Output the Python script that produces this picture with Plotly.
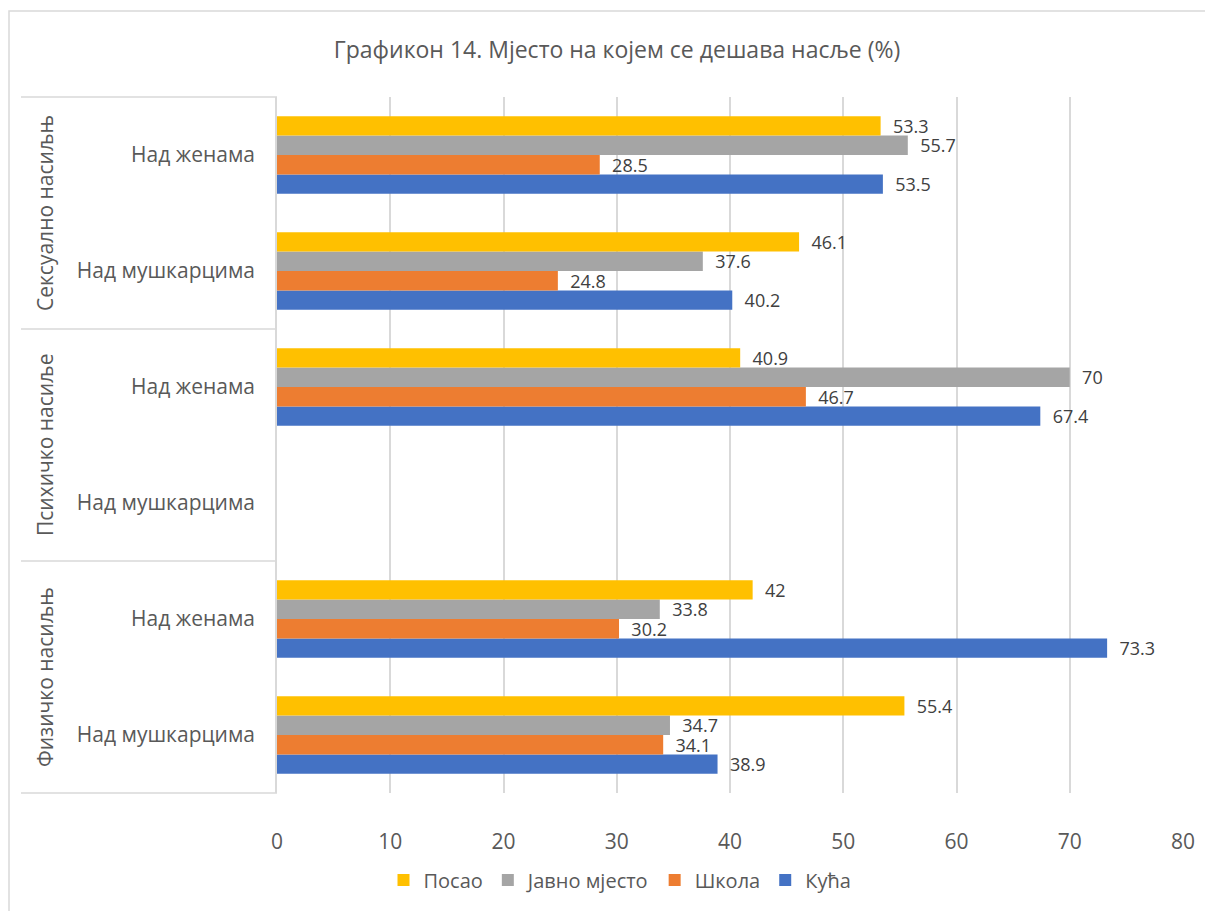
import plotly.graph_objects as go

# Categories (bottom to top)
groups = ["Физичко насиљњ", "Физичко насиљњ", "Психичко насиље", "Психичко насиље",
          "Сексуално насиљњ", "Сексуално насиљњ"]
subcats = ["Над мушкарцима", "Над женама", "Над мушкарцима", "Над женама",
           "Над мушкарцима", "Над женама"]
cat_keys = [f"{g}|{s}" for g, s in zip(groups, subcats)]
group_labels = ["Физичко насиљњ", "Психичко насиље", "Сексуално насиљњ"]

# Series values (same order as categories)
kuca = [38.9, 73.3, None, 67.4, 40.2, 53.5]
skola = [34.1, 30.2, None, 46.7, 24.8, 28.5]
javno = [34.7, 33.8, None, 70, 37.6, 55.7]
posao = [55.4, 42, None, 40.9, 46.1, 53.3]

series_names = ["Кућа", "Школа", "Јавно мјесто", "Посао"]
series_values = [kuca, skola, javno, posao]
series_colors = ["#4472C4", "#ED7D31", "#A5A5A5", "#FFC000"]

x_ticks = [0, 10, 20, 30, 40, 50, 60, 70, 80]
title_text = "Графикон 14. Мјесто на којем се дешава насље (%)"

FONT = "Open Sans"
W, H = 1213, 911
OFF = 8  # page body margin offset
ML = 277 - OFF
MR = W - (1183 - OFF)
MT = 97 - OFF
MB = H - (793 - OFF)
PW, PH = W - ML - MR, H - MT - MB

def px_x(px):  # px in reference-screenshot coordinates
    return (px - OFF - ML) / PW

def px_y(py):
    return (H - MB - (py - OFF)) / PH

fig = go.Figure()
for name, vals, col in zip(series_names, series_values, series_colors):
    fig.add_trace(go.Bar(
        y=cat_keys, x=vals, name=name, orientation="h",
        marker=dict(color=col, line=dict(width=0)),
        text=[("" if v is None else "\u00a0\u00a0" + f"{v:g}") for v in vals],
        textposition="outside", constraintext="none",
        textfont=dict(family=FONT, size=18, color="#404040"),
        cliponaxis=False,
    ))

shapes = []
# separators in category label area
for yp in [0, 1/3, 2/3, 1]:
    shapes.append(dict(type="line", xref="paper", yref="paper",
                       x0=px_x(21), x1=0, y0=yp, y1=yp,
                       line=dict(color="#D9D9D9", width=1.5)))
# outer chart border
shapes.append(dict(type="rect", xref="paper", yref="paper",
                   x0=px_x(9), x1=px_x(1240), y0=px_y(940), y1=px_y(11),
                   line=dict(color="#D9D9D9", width=1.5), fillcolor="rgba(0,0,0,0)"))

annotations = []
for i, g in enumerate(group_labels):
    annotations.append(dict(text=g, xref="paper", yref="paper",
                            x=px_x(45), y=(2 * i + 1) / 6, showarrow=False,
                            textangle=-90, xanchor="center", yanchor="middle",
                            font=dict(family=FONT, size=21, color="#595959")))

fig.update_layout(
    width=W, height=H,
    margin=dict(l=ML, r=MR, t=MT, b=MB),
    paper_bgcolor="white", plot_bgcolor="white",
    barmode="group", bargap=0.33, bargroupgap=0,
    title=dict(text=title_text, x=(617 - OFF) / W, xanchor="center",
               y=1 - (50 - OFF) / H, yanchor="middle", xref="container", yref="container",
               font=dict(family=FONT, size=23, color="#595959")),
    xaxis=dict(range=[0, 80], tickvals=x_ticks, showgrid=True, gridcolor="#D9D9D9",
               gridwidth=1.5, zeroline=False, showline=False, ticks="",
               tickfont=dict(family=FONT, size=21, color="#595959"),
               ticklabelstandoff=34, automargin=False, fixedrange=True),
    yaxis=dict(type="category", categoryorder="array", categoryarray=cat_keys,
               tickvals=cat_keys, ticktext=subcats, showgrid=False,
               showline=True, linecolor="#D9D9D9", linewidth=1.5, ticks="",
               tickfont=dict(family=FONT, size=21, color="#595959"),
               ticklabelstandoff=16, automargin=False, fixedrange=True),
    legend=dict(orientation="h", traceorder="reversed", xref="container", yref="container",
                x=(620 - OFF) / W, xanchor="center", y=1 - (880 - OFF) / H, yanchor="middle",
                font=dict(family=FONT, size=20, color="#595959"),
                itemwidth=30),
    shapes=shapes, annotations=annotations,
    showlegend=True,
)

fig.write_html("out.html")
